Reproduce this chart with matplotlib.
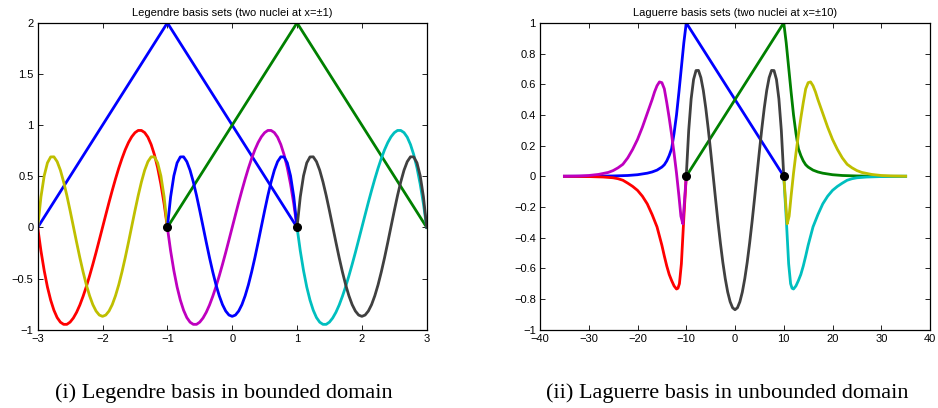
import numpy as np
import matplotlib.pyplot as plt
from matplotlib.ticker import FuncFormatter

plt.rcParams['font.family'] = ['Liberation Sans', 'DejaVu Sans']

# ---- Legendre panel: values read on each element, local coordinate t in [-1, 1]
t_loc = np.linspace(-1, 1, 41)
odd_vals = [0, -0.229, -0.422, -0.583, -0.711, -0.810, -0.882, -0.927, -0.948, -0.948,
            -0.926, -0.886, -0.830, -0.759, -0.674, -0.579, -0.474, -0.362, -0.245, -0.123,
            0, 0.123, 0.245, 0.362, 0.474, 0.579, 0.674, 0.759, 0.830, 0.886,
            0.926, 0.948, 0.948, 0.927, 0.882, 0.810, 0.711, 0.583, 0.422, 0.229, 0]
even_vals = [0, 0.298, 0.504, 0.631, 0.689, 0.690, 0.643, 0.559, 0.445, 0.311,
             0.163, 0.009, -0.146, -0.296, -0.435, -0.561, -0.668, -0.755, -0.818, -0.857,
             -0.870, -0.857, -0.818, -0.755, -0.668, -0.561, -0.435, -0.296, -0.146, 0.009,
             0.163, 0.311, 0.445, 0.559, 0.643, 0.690, 0.689, 0.631, 0.504, 0.298, 0]
elem_centers = [-2, 0, 2]
odd_colors = ['#ff0000', '#bf00bf', '#00bfbf']
even_colors = ['#bfbf00', '#0000ff', '#404040']
hat_blue_x = [-3, -1, 1]
hat_green_x = [-1, 1, 3]
hat_y = [0, 2, 0]
nuclei_leg = [-1, 1]
leg_xticks = [-3, -2, -1, 0, 1, 2, 3]
leg_yticks = [-1, -0.5, 0, 0.5, 1, 1.5, 2]

# ---- Laguerre panel: left-side curves (right side is the mirror image)
tail_x = [-35, -30, -25, -22, -20, -18, -17, -16, -15, -14.5, -14, -13.5, -13, -12.5, -12,
          -11.5, -11, -10.5, -10]
tail_blue = [0, 0.0, 0.002, 0.005, 0.01, 0.02, 0.028, 0.04, 0.06, 0.075, 0.10, 0.135, 0.18,
             0.28, 0.40, 0.55, 0.71, 0.87, 1.0]
mag_x = [-35, -32, -30, -28, -26, -25, -24, -23, -22, -21, -20, -19, -18, -17, -16.5, -16,
         -15.5, -15, -14.5, -14, -13.5, -13, -12.5, -12, -11.5, -11.1, -10.7, -10]
mag_y = [0, 0.002, 0.005, 0.012, 0.025, 0.037, 0.055, 0.078, 0.12, 0.175, 0.24, 0.32, 0.41,
         0.50, 0.55, 0.59, 0.615, 0.61, 0.57, 0.48, 0.38, 0.27, 0.15, 0.02, -0.13, -0.26,
         -0.31, 0]
red_x = [-35, -30, -27, -25, -24, -23, -22, -21, -20, -19, -18, -17, -16, -15, -14.5, -14,
         -13.5, -13, -12.5, -12, -11.7, -11.4, -11, -10.5, -10]
red_y = [0, -0.002, -0.005, -0.01, -0.016, -0.026, -0.045, -0.066, -0.092, -0.13, -0.18,
         -0.25, -0.33, -0.45, -0.52, -0.585, -0.64, -0.68, -0.715, -0.735, -0.73, -0.70,
         -0.57, -0.27, 0]
nuclei_lag = [-10, 10]
lag_xticks = [-40, -30, -20, -10, 0, 10, 20, 30, 40]
lag_yticks = [-1, -0.8, -0.6, -0.4, -0.2, 0, 0.2, 0.4, 0.6, 0.8, 1]

lw = 2.0
fmt = FuncFormatter(lambda v, p: ('%g' % round(v, 6)).replace('-', '\u2212'))

fig = plt.figure(figsize=(9.38, 4.08), dpi=100)
ax1 = fig.add_axes([0.0402, 0.192, 0.4147, 0.752])
ax2 = fig.add_axes([0.5757, 0.192, 0.4158, 0.752])

ax1.plot(hat_blue_x, hat_y, color='#0000ff', lw=lw)
ax1.plot(hat_green_x, hat_y, color='#008000', lw=lw)
for c, co, ce in zip(elem_centers, odd_colors, even_colors):
    ax1.plot(c + t_loc, odd_vals, color=co, lw=lw)
    ax1.plot(c + t_loc, even_vals, color=ce, lw=lw)
ax1.plot(nuclei_leg, [0, 0], 'o', color='k', ms=5.5, zorder=5)
ax1.set_xlim(-3, 3)
ax1.set_ylim(-1, 2)
ax1.set_xticks(leg_xticks)
ax1.set_yticks(leg_yticks)
ax1.set_title('Legendre basis sets (two nuclei at x=±1)', fontsize=8, pad=5)

# Laguerre
tail_x_r = [-v for v in tail_x]
ax2.plot(tail_x + [10], tail_blue + [0], color='#0000ff', lw=lw)
ax2.plot(tail_x_r + [-10], tail_blue + [0], color='#008000', lw=lw)
ax2.plot(red_x, red_y, color='#ff0000', lw=lw)
ax2.plot(mag_x, mag_y, color='#bf00bf', lw=lw)
ax2.plot([-v for v in red_x], red_y, color='#00bfbf', lw=lw)
ax2.plot([-v for v in mag_x], mag_y, color='#bfbf00', lw=lw)
ax2.plot(10 * t_loc, even_vals, color='#404040', lw=lw)
ax2.plot(nuclei_lag, [0, 0], 'o', color='k', ms=5.5, zorder=5)
ax2.set_xlim(-40, 40)
ax2.set_ylim(-1, 1)
ax2.set_xticks(lag_xticks)
ax2.set_yticks(lag_yticks)
ax2.set_title('Laguerre basis sets (two nuclei at x=±10)', fontsize=8, pad=5)

for ax in (ax1, ax2):
    ax.tick_params(direction='in', top=True, right=True, length=3.5, width=0.6,
                   labelsize=8, pad=3)
    ax.xaxis.set_major_formatter(fmt)
    ax.yaxis.set_major_formatter(fmt)
    for s in ax.spines.values():
        s.set_linewidth(0.9)

fig.text(224 / 938, 1 - 393 / 408, '(i) Legendre basis in bounded domain',
         ha='center', va='center', fontsize=16, family='Liberation Serif')
fig.text(727 / 938, 1 - 393 / 408, '(ii) Laguerre basis in unbounded domain',
         ha='center', va='center', fontsize=16, family='Liberation Serif')

fig.savefig('out.png', dpi=100)
